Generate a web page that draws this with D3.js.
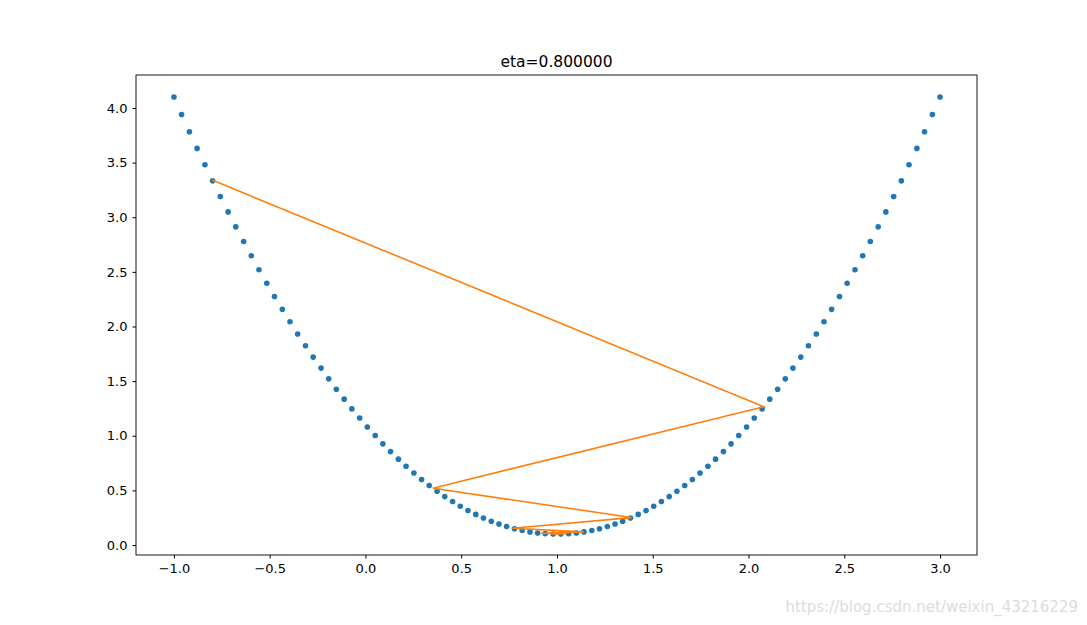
<!DOCTYPE html>
<html><head><meta charset="utf-8">
<script src="https://cdn.jsdelivr.net/npm/d3@7"></script>
<style>body{margin:0;background:#fff}text{font-family:"DejaVu Sans",sans-serif}</style>
</head><body>
<svg id="c" width="1087" height="625"></svg>
<script>
const title = "eta=0.800000";
const curveX = [-1.000,-0.960,-0.919,-0.879,-0.838,-0.798,-0.758,-0.717,-0.677,-0.636,-0.596,-0.556,-0.515,-0.475,-0.434,-0.394,-0.354,-0.313,-0.273,-0.232,-0.192,-0.152,-0.111,-0.071,-0.030,0.010,0.051,0.091,0.131,0.172,0.212,0.253,0.293,0.333,0.374,0.414,0.455,0.495,0.535,0.576,0.616,0.657,0.697,0.737,0.778,0.818,0.859,0.899,0.939,0.980,1.020,1.061,1.101,1.141,1.182,1.222,1.263,1.303,1.343,1.384,1.424,1.465,1.505,1.545,1.586,1.626,1.667,1.707,1.747,1.788,1.828,1.869,1.909,1.949,1.990,2.030,2.071,2.111,2.152,2.192,2.232,2.273,2.313,2.354,2.394,2.434,2.475,2.515,2.556,2.596,2.636,2.677,2.717,2.758,2.798,2.838,2.879,2.919,2.960,3.000];
const curveY = [4.100,3.940,3.783,3.630,3.480,3.333,3.189,3.049,2.912,2.778,2.647,2.520,2.396,2.275,2.157,2.043,1.932,1.824,1.720,1.619,1.521,1.426,1.335,1.246,1.162,1.080,1.002,0.926,0.855,0.786,0.721,0.659,0.600,0.544,0.492,0.443,0.398,0.355,0.316,0.280,0.247,0.218,0.192,0.169,0.149,0.133,0.120,0.110,0.104,0.100,
0.100,0.104,0.110,0.120,0.133,0.149,0.169,0.192,0.218,0.247,0.280,0.316,0.355,0.398,0.443,0.492,0.544,0.600,0.659,0.721,0.786,0.855,0.926,1.002,1.080,1.162,1.246,1.335,1.426,1.521,1.619,1.720,1.824,1.932,2.043,2.157,2.275,2.396,2.520,2.647,2.778,2.912,3.049,3.189,3.333,3.480,3.630,3.783,3.940,4.100];
const pathX = [-0.800,2.080,0.352,1.389,0.767,1.140,0.916,1.050,0.970,1.018,0.989];
const pathY = [3.340,1.266,0.520,0.251,0.154,0.120,0.107,0.103,0.101,0.100,0.100];
const xTicks = [-1.0,-0.5,0.0,0.5,1.0,1.5,2.0,2.5,3.0];
const yTicks = [0.0,0.5,1.0,1.5,2.0,2.5,3.0,3.5,4.0];

const L=136,R=977,T=75,B=555;
const svg=d3.select("#c");
const x=d3.scaleLinear().domain([-1.198,3.193]).range([L,R]);
const y=d3.scaleLinear().domain([-0.0915,4.302]).range([B,T]);
svg.append("g").attr("transform",`translate(0,${B})`)
  .call(d3.axisBottom(x).tickValues(xTicks).tickFormat(d3.format(".1f")).tickSizeOuter(0).tickSize(3.5).tickPadding(5))
  .call(g=>g.select(".domain").remove()).selectAll("text").attr("font-size",13).attr("fill","#000");
svg.append("g").attr("transform",`translate(${L},0)`)
  .call(d3.axisLeft(y).tickValues(yTicks).tickFormat(d3.format(".1f")).tickSizeOuter(0).tickSize(3.5).tickPadding(5))
  .call(g=>g.select(".domain").remove()).selectAll("text").attr("font-size",13).attr("fill","#000");
svg.selectAll("g.tick line").attr("stroke","#000");
svg.append("g").selectAll("circle").data(curveX).join("circle")
  .attr("cx",d=>x(d)).attr("cy",(d,i)=>y(curveY[i])).attr("r",2.8).attr("fill","#1f77b4");
svg.append("path").datum(pathX.map((d,i)=>[d,pathY[i]]))
  .attr("d",d3.line().x(d=>x(d[0])).y(d=>y(d[1]))).attr("fill","none").attr("stroke","#ff7f0e").attr("stroke-width",1.6);
svg.append("rect").attr("x",L).attr("y",T).attr("width",R-L).attr("height",B-T).attr("fill","none").attr("stroke","#000").attr("stroke-width",0.9);
svg.append("text").attr("x",(L+R)/2).attr("y",T-8).attr("text-anchor","middle").attr("font-size",15.5).text(title);
svg.append("text").attr("x",1078).attr("y",612).attr("text-anchor","end").attr("font-size",15).attr("fill","#dcdcdc").text("https://blog.csdn.net/weixin_43216229");
</script>
</body></html>
